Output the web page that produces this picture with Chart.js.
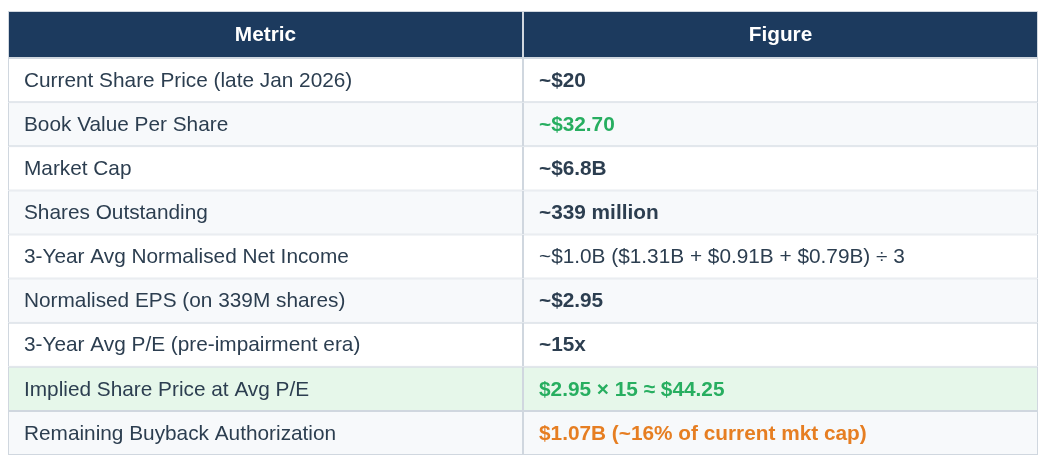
<!DOCTYPE html>
<html>
<head>
<meta charset="utf-8">
<script src="https://cdn.jsdelivr.net/npm/chart.js@4/dist/chart.umd.min.js"></script>
<style>
  html, body { margin: 0; padding: 0; background: #ffffff; }
  #wrap { width: 1046px; height: 464px; }
</style>
</head>
<body>
<div id="wrap"><canvas id="table"></canvas></div>
<script>
// table content
const headers = ['Metric', 'Figure'];
const metrics = [
  'Current Share Price (late Jan 2026)',
  'Book Value Per Share',
  'Market Cap',
  'Shares Outstanding',
  '3-Year Avg Normalised Net Income',
  'Normalised EPS (on 339M shares)',
  '3-Year Avg P/E (pre-impairment era)',
  'Implied Share Price at Avg P/E',
  'Remaining Buyback Authorization'
];
const figures = [
  '~$20',
  '~$32.70',
  '~$6.8B',
  '~339 million',
  '~$1.0B ($1.31B + $0.91B + $0.79B) ÷ 3',
  '~$2.95',
  '~15x',
  '$2.95 × 15 ≈ $44.25',
  '$1.07B (~16% of current mkt cap)'
];
// how each figure is shown, and each row's shading
const figureTone = ['bold', 'green', 'bold', 'bold', 'plain', 'bold', 'bold', 'green', 'orange'];
const rowShade = ['white', 'grey', 'white', 'grey', 'white', 'grey', 'white', 'green', 'grey'];

const NAVY = '#1c3a5e';
const TEXT = '#2c3e50';
const LINE = '#d0d7df';
const shadeColor = { white: '#ffffff', grey: '#f7f9fb', green: '#e6f7ea' };
const toneColor = { bold: TEXT, plain: TEXT, green: '#27ae60', orange: '#e67e22' };
const FONT = '"Liberation Sans", Arial, Helvetica, sans-serif';
const SIZE = '20.8px ';

// header is a bit taller than a body row
const headerH = 47 / 44;

const datasets = [{
  label: 'header',
  data: [[0, headerH], [0, headerH]],
  backgroundColor: NAVY
}];
metrics.forEach((m, i) => {
  datasets.push({
    label: m,
    data: [[headerH + i, headerH + i + 1], [headerH + i, headerH + i + 1]],
    backgroundColor: shadeColor[rowShade[i]]
  });
});

const cellText = {
  id: 'cellText',
  afterDatasetsDraw(chart) {
    const ctx = chart.ctx;
    const x = chart.scales.x;
    const y = chart.scales.y;
    const half = (x.getPixelForValue(1) - x.getPixelForValue(0)) / 2;
    ctx.save();
    ctx.textBaseline = 'middle';

    // header
    ctx.fillStyle = '#ffffff';
    ctx.font = 'bold ' + SIZE + FONT;
    ctx.textAlign = 'center';
    const hy = y.getPixelForValue(headerH / 2);
    headers.forEach((h, c) => ctx.fillText(h, x.getPixelForValue(c), hy + 1));

    // body rows
    ctx.textAlign = 'left';
    metrics.forEach((m, i) => {
      const cy = y.getPixelForValue(headerH + i + 0.5) + 1;
      ctx.font = SIZE + FONT;
      ctx.fillStyle = TEXT;
      ctx.fillText(m, x.getPixelForValue(0) - half + 16, cy);

      const tone = figureTone[i];
      ctx.font = (tone === 'plain' ? '' : 'bold ') + SIZE + FONT;
      ctx.fillStyle = toneColor[tone];
      ctx.fillText(figures[i], x.getPixelForValue(1) - half + 16, cy);
    });
    ctx.restore();
  }
};

new Chart(document.getElementById('table'), {
  type: 'bar',
  data: { labels: headers, datasets: datasets },
  options: {
    responsive: true,
    maintainAspectRatio: false,
    animation: false,
    events: [],
    layout: { padding: { left: 8, right: 8, top: 11, bottom: 9 } },
    datasets: {
      bar: {
        grouped: false,
        barPercentage: 1,
        categoryPercentage: 1,
        borderWidth: 1,
        borderColor: LINE,
        borderSkipped: false,
        inflateAmount: 0
      }
    },
    plugins: {
      legend: { display: false },
      tooltip: { enabled: false }
    },
    scales: {
      x: { display: false, grid: { display: false } },
      y: {
        display: false,
        reverse: true,
        min: 0,
        max: headerH + metrics.length,
        grid: { display: false }
      }
    }
  },
  plugins: [cellText]
});
</script>
</body>
</html>
